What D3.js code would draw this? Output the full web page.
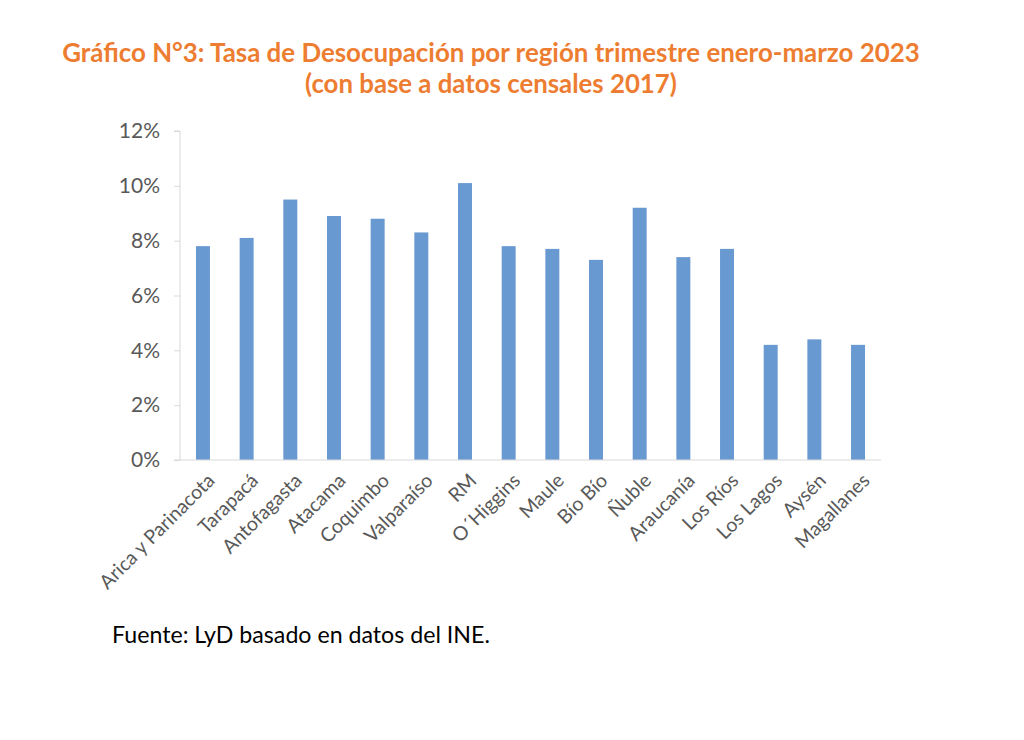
<!DOCTYPE html>
<html>
<head>
<meta charset="utf-8">
<script src="https://cdn.jsdelivr.net/npm/d3@7.9.0/dist/d3.min.js"></script>
<style>
  body { margin: 0; background: #fff; }
  svg { display: block; }
  text { font-family: Lato, "Open Sans", sans-serif; }
</style>
</head>
<body>
<svg width="1024" height="740"></svg>
<script>
// data
const regions = ['Arica y Parinacota', 'Tarapacá', 'Antofagasta', 'Atacama', 'Coquimbo',
  'Valparaíso', 'RM', 'O´Higgins', 'Maule', 'Bío Bío', 'Ñuble', 'Araucanía',
  'Los Ríos', 'Los Lagos', 'Aysén', 'Magallanes'];
const rates = [7.8, 8.1, 9.5, 8.9, 8.8, 8.3, 10.1, 7.8, 7.7, 7.3, 9.2, 7.4, 7.7, 4.2, 4.4, 4.2];
const yTicks = [0, 2, 4, 6, 8, 10, 12];
const titleLines = ['Gráfico N°3: Tasa de Desocupación por región trimestre enero-marzo 2023',
  '(con base a datos censales 2017)'];
const source = 'Fuente: LyD basado en datos del INE.';

const svg = d3.select('svg');
const mLeft = 180, mRight = 881, mTop = 131, mBottom = 460;

const x = d3.scaleBand().domain(regions).range([mLeft, mRight]).paddingInner(0.68).paddingOuter(0.366);
const y = d3.scaleLinear().domain([0, 12]).range([mBottom, mTop]);

// shrink a text element to a target width
function fitWidth(sel, w) {
  const node = sel.node();
  const cur = node.getComputedTextLength();
  const fs = parseFloat(sel.attr('font-size'));
  sel.attr('font-size', fs * w / cur);
}

// title
svg.append('text').attr('x', 491).attr('y', 62).attr('text-anchor', 'middle')
  .attr('font-size', 22).attr('font-weight', 'bold').attr('fill', '#ED7D31')
  .text(titleLines[0]).call(fitWidth, 858);
svg.append('text').attr('x', 491).attr('y', 93).attr('text-anchor', 'middle')
  .attr('font-size', 22).attr('font-weight', 'bold').attr('fill', '#ED7D31')
  .text(titleLines[1]).call(fitWidth, 372);

// y axis
const yAxis = svg.append('g').attr('transform', `translate(${mLeft},0)`)
  .call(d3.axisLeft(y).tickValues(yTicks).tickFormat(d => d + '%').tickSize(6).tickPadding(14));
yAxis.select('.domain').attr('stroke', '#d9d9d9').attr('d', `M-6,${mTop}H0V${mBottom}`);
yAxis.selectAll('.tick line').attr('stroke', '#d9d9d9');
yAxis.selectAll('.tick text').attr('font-size', 21).attr('fill', '#595959')
  .attr('font-family', 'Lato, sans-serif');

// bars
svg.append('g').selectAll('rect').data(rates).join('rect')
  .attr('x', (d, i) => x(regions[i]))
  .attr('width', x.bandwidth())
  .attr('y', d => y(d))
  .attr('height', d => y(0) - y(d))
  .attr('fill', '#6999D1');

// x axis line
svg.append('line').attr('x1', mLeft - 6).attr('x2', mRight).attr('y1', mBottom).attr('y2', mBottom)
  .attr('stroke', '#d9d9d9').attr('stroke-width', 1);

// category labels
svg.append('g').selectAll('text').data(regions).join('text')
  .attr('transform', d => `translate(${x(d) + x.bandwidth() / 2 + 8},${mBottom + 17}) rotate(-45)`)
  .attr('text-anchor', 'end').attr('dy', '0.35em')
  .attr('font-size', 19.5).attr('fill', '#595959')
  .text(d => d);

// source
svg.append('text').attr('x', 112).attr('y', 643).attr('font-size', 20).attr('fill', '#000')
  .text(source).call(fitWidth, 378);
</script>
</body>
</html>
